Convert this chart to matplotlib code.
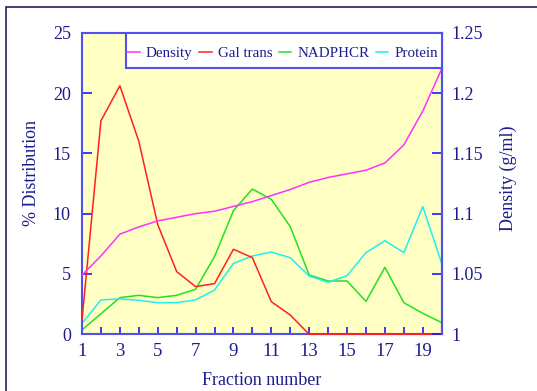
import matplotlib.pyplot as plt
from matplotlib.patches import Rectangle
from matplotlib.ticker import FuncFormatter

plt.rcParams['font.family'] = ['Liberation Serif', 'DejaVu Serif']

fractions = list(range(1, 21))
gal_trans = [1.2, 17.7, 20.6, 16.0, 9.1, 5.2, 3.95, 4.2, 7.05, 6.35,
             2.7, 1.6, 0.0, 0.0, 0.0, 0.0, 0.0, 0.0, 0.0, 0.0]
nadphcr = [0.36, 1.7, 3.04, 3.23, 3.04, 3.23, 3.73, 6.44, 10.25, 12.04,
           11.19, 8.92, 4.92, 4.42, 4.42, 2.73, 5.55, 2.62, 1.74, 0.97]
protein = [0.91, 2.85, 2.93, 2.82, 2.62, 2.62, 2.85, 3.67, 5.88, 6.49,
           6.82, 6.35, 4.83, 4.31, 4.86, 6.77, 7.76, 6.77, 10.58, 5.88]
density = [1.049, 1.065, 1.083, 1.089, 1.094, 1.097, 1.100, 1.102, 1.106, 1.110,
           1.115, 1.120, 1.126, 1.130, 1.133, 1.136, 1.142, 1.157, 1.185, 1.220]

navy = '#1c1c8c'
spine_blue = '#5050ee'

fig = plt.figure(figsize=(5.37, 3.91), dpi=100)
fig.patches.append(Rectangle((6 / 537, -0.05), 1.2, 1 - 7 / 391 + 0.05,
                             transform=fig.transFigure, fill=False,
                             edgecolor='#202060', linewidth=1.2))

ax = fig.add_axes([82 / 537, 1 - 334.3 / 391, 359.7 / 537, 301.6 / 391])
ax.set_facecolor('#ffffc4')
ax2 = ax.twinx()
for side in ('left', 'bottom', 'top'):
    ax2.spines[side].set_visible(False)

l2, = ax.plot(fractions, gal_trans, color='#ff2020', lw=1.1, zorder=3, clip_on=False)
l3, = ax.plot(fractions, nadphcr, color='#22e022', lw=1.1)
l4, = ax.plot(fractions, protein, color='#22eeee', lw=1.1)
l1, = ax2.plot(fractions, density, color='#ff30ff', lw=1.1)

ax.set_xlim(1, 20)
ax.set_ylim(0, 25)
ax2.set_ylim(1, 1.25)

ax.set_xticks(range(1, 21, 2))
ax.set_xticks(range(1, 21), minor=True)
ax.set_yticks([0, 5, 10, 15, 20, 25])
ax2.set_yticks([1, 1.05, 1.1, 1.15, 1.2, 1.25])
ax2.yaxis.set_major_formatter(FuncFormatter(lambda v, p: '%g' % round(v, 2)))

for a in (ax, ax2):
    for s in a.spines.values():
        s.set_color(spine_blue)
        s.set_linewidth(1.5)
    a.tick_params(which='both', direction='in', color='#1a1aff', labelcolor=navy,
                  labelsize=13)
ax.tick_params(axis='x', which='both', length=5, width=1.2, pad=6)
ax.tick_params(axis='y', length=7, width=1.2, pad=8)
ax2.tick_params(axis='y', length=7, width=1.2, pad=7)
ax.tick_params(axis='x', which='major', labelsize=13.5)

ax.set_xlabel('Fraction number', color=navy, fontsize=13, labelpad=9)
ax.set_ylabel('% Distribution', color=navy, fontsize=13, labelpad=9)
ax2.set_ylabel('Density (g/ml)', color=navy, fontsize=13, labelpad=12)
ax.yaxis.label.set_y(0.535)
ax2.yaxis.label.set_y(0.518)

# legend box: white panel tucked into the top right corner
ax2.add_patch(Rectangle((0.1215, 0.883), 0.8785, 0.117, transform=ax2.transAxes,
                        facecolor='white', edgecolor=spine_blue, linewidth=1.5,
                        zorder=4, clip_on=False))
leg = ax2.legend([l1, l2, l3, l4], ['Density', 'Gal trans', 'NADPHCR', 'Protein'],
                 loc='center left', bbox_to_anchor=(0.1215, 0.872, 0.8785, 0.117),
                 ncol=4, frameon=False, handlelength=0.85, handletextpad=0.4,
                 columnspacing=0.42, borderaxespad=0, fontsize=10.8,
                 labelcolor=navy, borderpad=0.1)
leg.set_zorder(5)

fig.savefig('out.png', dpi=100)
